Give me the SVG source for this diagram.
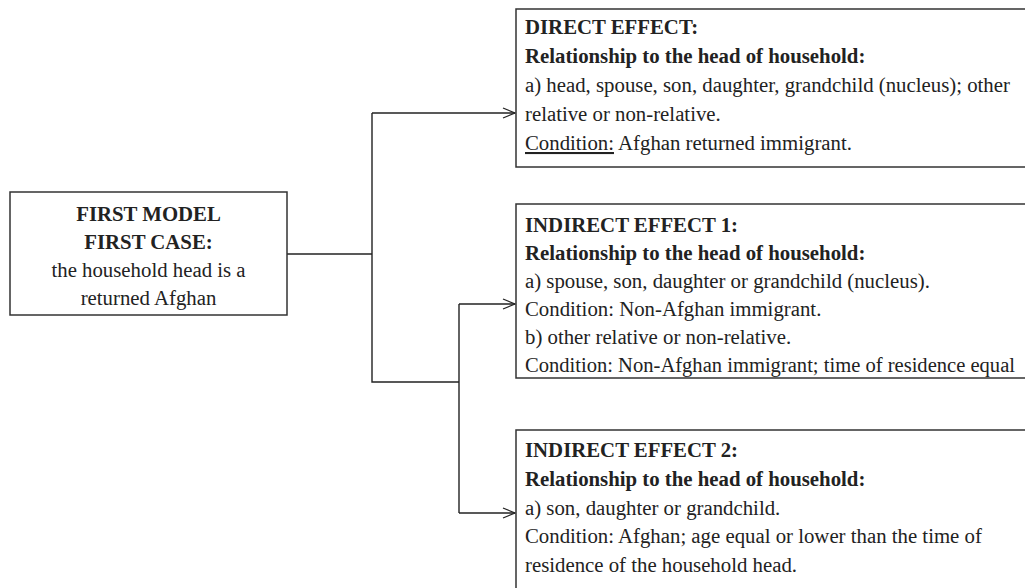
<svg xmlns="http://www.w3.org/2000/svg" width="1025" height="588" viewBox="0 0 1025 588">
<style>
.box{fill:#fff;stroke:#333;stroke-width:1.5}
.t{font-family:"Liberation Serif","Times New Roman",serif;font-size:20.8px;fill:#222}
.b{font-weight:bold}
.c{text-anchor:middle}
.con{fill:none;stroke:#222;stroke-width:1.4}
</style>
<defs>
<marker id="arr" markerWidth="14" markerHeight="12" refX="13" refY="6" orient="auto" markerUnits="userSpaceOnUse">
<path d="M1,1 L13,6 L1,11" fill="none" stroke="#222" stroke-width="1.3"/>
</marker>
</defs>
<rect width="1025" height="588" fill="#fff"/>
<g id="connectors">
<path class="con" d="M287,254 H372"/>
<path class="con" d="M372,113 V382 H459"/>
<path class="con" d="M372,113 H515" marker-end="url(#arr)"/>
<path class="con" d="M459,304 V513"/>
<path class="con" d="M459,304 H515" marker-end="url(#arr)"/>
<path class="con" d="M459,513 H515" marker-end="url(#arr)"/>
</g>
<g id="first-model">
<rect class="box" x="10" y="192" width="277" height="123"/>
<text class="t b c" x="148.5" y="221">FIRST MODEL</text>
<text class="t b c" x="148.5" y="249">FIRST CASE:</text>
<text class="t c" x="148.5" y="277">the household head is a</text>
<text class="t c" x="148.5" y="305">returned Afghan</text>
</g>
<g id="direct-effect">
<rect class="box" x="516" y="9" width="520" height="158"/>
<text class="t b" x="525" y="34">DIRECT EFFECT:</text>
<text class="t b" x="525" y="63">Relationship to the head of household:</text>
<text class="t" x="525" y="92">a) head, spouse, son, daughter, grandchild (nucleus); other</text>
<text class="t" x="525" y="121">relative or non-relative.</text>
<text class="t" x="525" y="150"><tspan text-decoration="underline">Condition:</tspan> Afghan returned immigrant.</text>
</g>
<g id="indirect-effect-1">
<rect class="box" x="516" y="204" width="520" height="174"/>
<text class="t b" x="525" y="232">INDIRECT EFFECT 1:</text>
<text class="t b" x="525" y="260">Relationship to the head of household:</text>
<text class="t" x="525" y="288">a) spouse, son, daughter or grandchild (nucleus).</text>
<text class="t" x="525" y="316">Condition: Non-Afghan immigrant.</text>
<text class="t" x="525" y="344">b) other relative or non-relative.</text>
<text class="t" x="525" y="372" textLength="490" lengthAdjust="spacingAndGlyphs">Condition: Non-Afghan immigrant; time of residence equal</text>
</g>
<g id="indirect-effect-2">
<rect class="box" x="516" y="430" width="520" height="200"/>
<text class="t b" x="525" y="457">INDIRECT EFFECT 2:</text>
<text class="t b" x="525" y="486">Relationship to the head of household:</text>
<text class="t" x="525" y="515">a) son, daughter or grandchild.</text>
<text class="t" x="525" y="543">Condition: Afghan; age equal or lower than the time of</text>
<text class="t" x="525" y="572">residence of the household head.</text>
</g>
</svg>
